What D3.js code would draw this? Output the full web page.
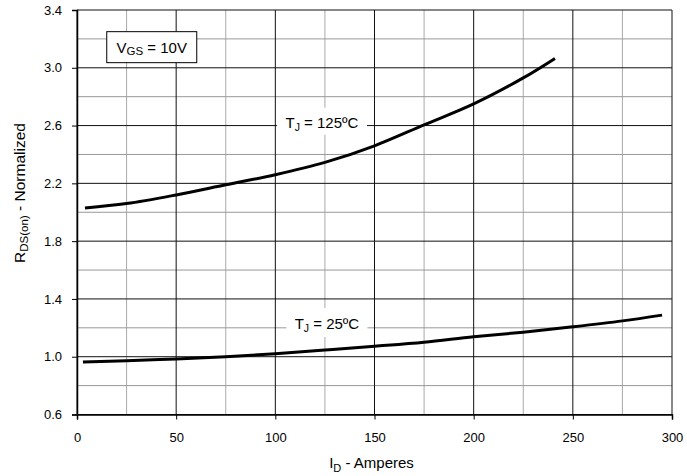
<!DOCTYPE html>
<html lang="en">
<head>
    <meta charset="UTF-8">
    <title>RDS(on) vs ID</title>
    <script src="https://d3js.org/d3.v7.min.js"></script>
    <style>
        body { margin: 0; background: #fff; }
        text { font-family: "Liberation Sans", Arial, sans-serif; fill: #000; }
    </style>
</head>
<body>
    <div id="chart-container"></div>

    <script>
        // Data
        const currentTicks = [0, 50, 100, 150, 200, 250, 300];
        const rdsTicks = [0.6, 1.0, 1.4, 1.8, 2.2, 2.6, 3.0, 3.4];

        const id125 = [4, 25, 50, 75, 100, 125, 150, 175, 200, 225, 241];
        const rds125 = [2.03, 2.06, 2.12, 2.19, 2.26, 2.345, 2.46, 2.605, 2.75, 2.93, 3.065];

        const id25 = [3, 25, 50, 75, 100, 125, 150, 175, 200, 225, 250, 275, 295];
        const rds25 = [0.963, 0.972, 0.985, 1.0, 1.02, 1.046, 1.072, 1.1, 1.138, 1.17, 1.207, 1.248, 1.288];

        const width = 687;
        const height = 476;
        const margin = { top: 10, right: 15, bottom: 61.5, left: 77 };
        const innerW = width - margin.left - margin.right;
        const innerH = height - margin.top - margin.bottom;

        const svg = d3.select("#chart-container")
            .append("svg")
            .attr("width", width)
            .attr("height", height);

        const g = svg.append("g")
            .attr("transform", `translate(${margin.left},${margin.top})`);

        const x = d3.scaleLinear().domain([0, 300]).range([0, innerW]);
        const y = d3.scaleLinear().domain([0.6, 3.4]).range([innerH, 0]);

        // Minor grid (gray)
        g.selectAll(".vminor")
            .data(d3.range(25, 300, 50))
            .enter().append("line")
            .attr("x1", d => x(d)).attr("x2", d => x(d))
            .attr("y1", 0).attr("y2", innerH)
            .attr("stroke", "#aaa").attr("stroke-width", 1);

        g.selectAll(".hminor")
            .data(d3.range(0.8, 3.4, 0.4))
            .enter().append("line")
            .attr("x1", 0).attr("x2", innerW)
            .attr("y1", d => y(d)).attr("y2", d => y(d))
            .attr("stroke", "#999").attr("stroke-width", 1);

        // Major grid (black)
        g.selectAll(".vmajor")
            .data(currentTicks)
            .enter().append("line")
            .attr("x1", d => x(d)).attr("x2", d => x(d))
            .attr("y1", 0).attr("y2", innerH)
            .attr("stroke", "#111").attr("stroke-width", 1);

        g.selectAll(".hmajor")
            .data(rdsTicks)
            .enter().append("line")
            .attr("x1", 0).attr("x2", innerW)
            .attr("y1", d => y(d)).attr("y2", d => y(d))
            .attr("stroke", "#111").attr("stroke-width", 1);

        // Axes
        const xAxis = g.append("g")
            .attr("transform", `translate(0,${innerH})`)
            .call(d3.axisBottom(x).tickValues(currentTicks).tickSize(5).tickPadding(13)
                .tickFormat(d3.format("d")));
        xAxis.select(".domain").attr("stroke", "#000").attr("stroke-width", 1.5);
        xAxis.selectAll("text").style("font-size", "13px").style("font-family", "Liberation Sans, Arial, sans-serif");

        const yAxis = g.append("g")
            .call(d3.axisLeft(y).tickValues(rdsTicks).tickSize(5).tickPadding(10)
                .tickFormat(d3.format(".1f")));
        yAxis.select(".domain").attr("stroke", "#000").attr("stroke-width", 1.5);
        yAxis.selectAll("text").style("font-size", "13px").style("font-family", "Liberation Sans, Arial, sans-serif");

        // Curve labels with white backing (drawn under the curves)
        function curveLabel(cx, cy, bw, bh, temp) {
            g.append("rect")
                .attr("x", cx - bw / 2).attr("y", cy - bh / 2)
                .attr("width", bw).attr("height", bh)
                .attr("fill", "#fff");
            const t = g.append("text")
                .attr("x", cx).attr("y", cy + 7)
                .attr("text-anchor", "middle")
                .style("font-size", "15px");
            t.append("tspan").text("T");
            t.append("tspan").attr("dy", 3).style("font-size", "10.5px").text("J");
            t.append("tspan").attr("dy", -3).text(" = " + temp + "ºC");
        }
        curveLabel(x(123.5), y(2.63), 90, 27, "125");
        curveLabel(x(126), y(1.237), 81, 29, "25");

        // Curves
        const line = d3.line()
            .x(d => x(d[0]))
            .y(d => y(d[1]))
            .curve(d3.curveCatmullRom);

        g.append("path")
            .datum(id125.map((v, i) => [v, rds125[i]]))
            .attr("d", line)
            .attr("fill", "none")
            .attr("stroke", "#000")
            .attr("stroke-width", 3);

        g.append("path")
            .datum(id25.map((v, i) => [v, rds25[i]]))
            .attr("d", line)
            .attr("fill", "none")
            .attr("stroke", "#000")
            .attr("stroke-width", 3);

        // VGS box
        const bx = x(15), by = y(3.25);
        g.append("rect")
            .attr("x", bx).attr("y", by)
            .attr("width", 90).attr("height", 31)
            .attr("fill", "#fff").attr("stroke", "#000").attr("stroke-width", 1);
        const vt = g.append("text")
            .attr("x", bx + 45).attr("y", by + 21)
            .attr("text-anchor", "middle")
            .style("font-size", "15px");
        vt.append("tspan").text("V");
        vt.append("tspan").attr("dy", 2).style("font-size", "11.5px").text("GS");
        vt.append("tspan").attr("dy", -2).text(" = 10V");

        // Axis titles
        const xt = svg.append("text")
            .attr("x", margin.left + innerW / 2 - 3)
            .attr("y", 468)
            .attr("text-anchor", "middle")
            .style("font-size", "15px");
        xt.append("tspan").text("I");
        xt.append("tspan").attr("dy", 4).style("font-size", "11px").text("D");
        xt.append("tspan").attr("dy", -4).text(" - Amperes");

        const yt = svg.append("text")
            .attr("transform", `translate(25,193) rotate(-90)`)
            .attr("text-anchor", "middle")
            .style("font-size", "15.5px");
        yt.append("tspan").text("R");
        yt.append("tspan").attr("dy", 3).style("font-size", "11.5px").text("DS(on)");
        yt.append("tspan").attr("dy", -3).text(" - Normalized");
    </script>
</body>
</html>
